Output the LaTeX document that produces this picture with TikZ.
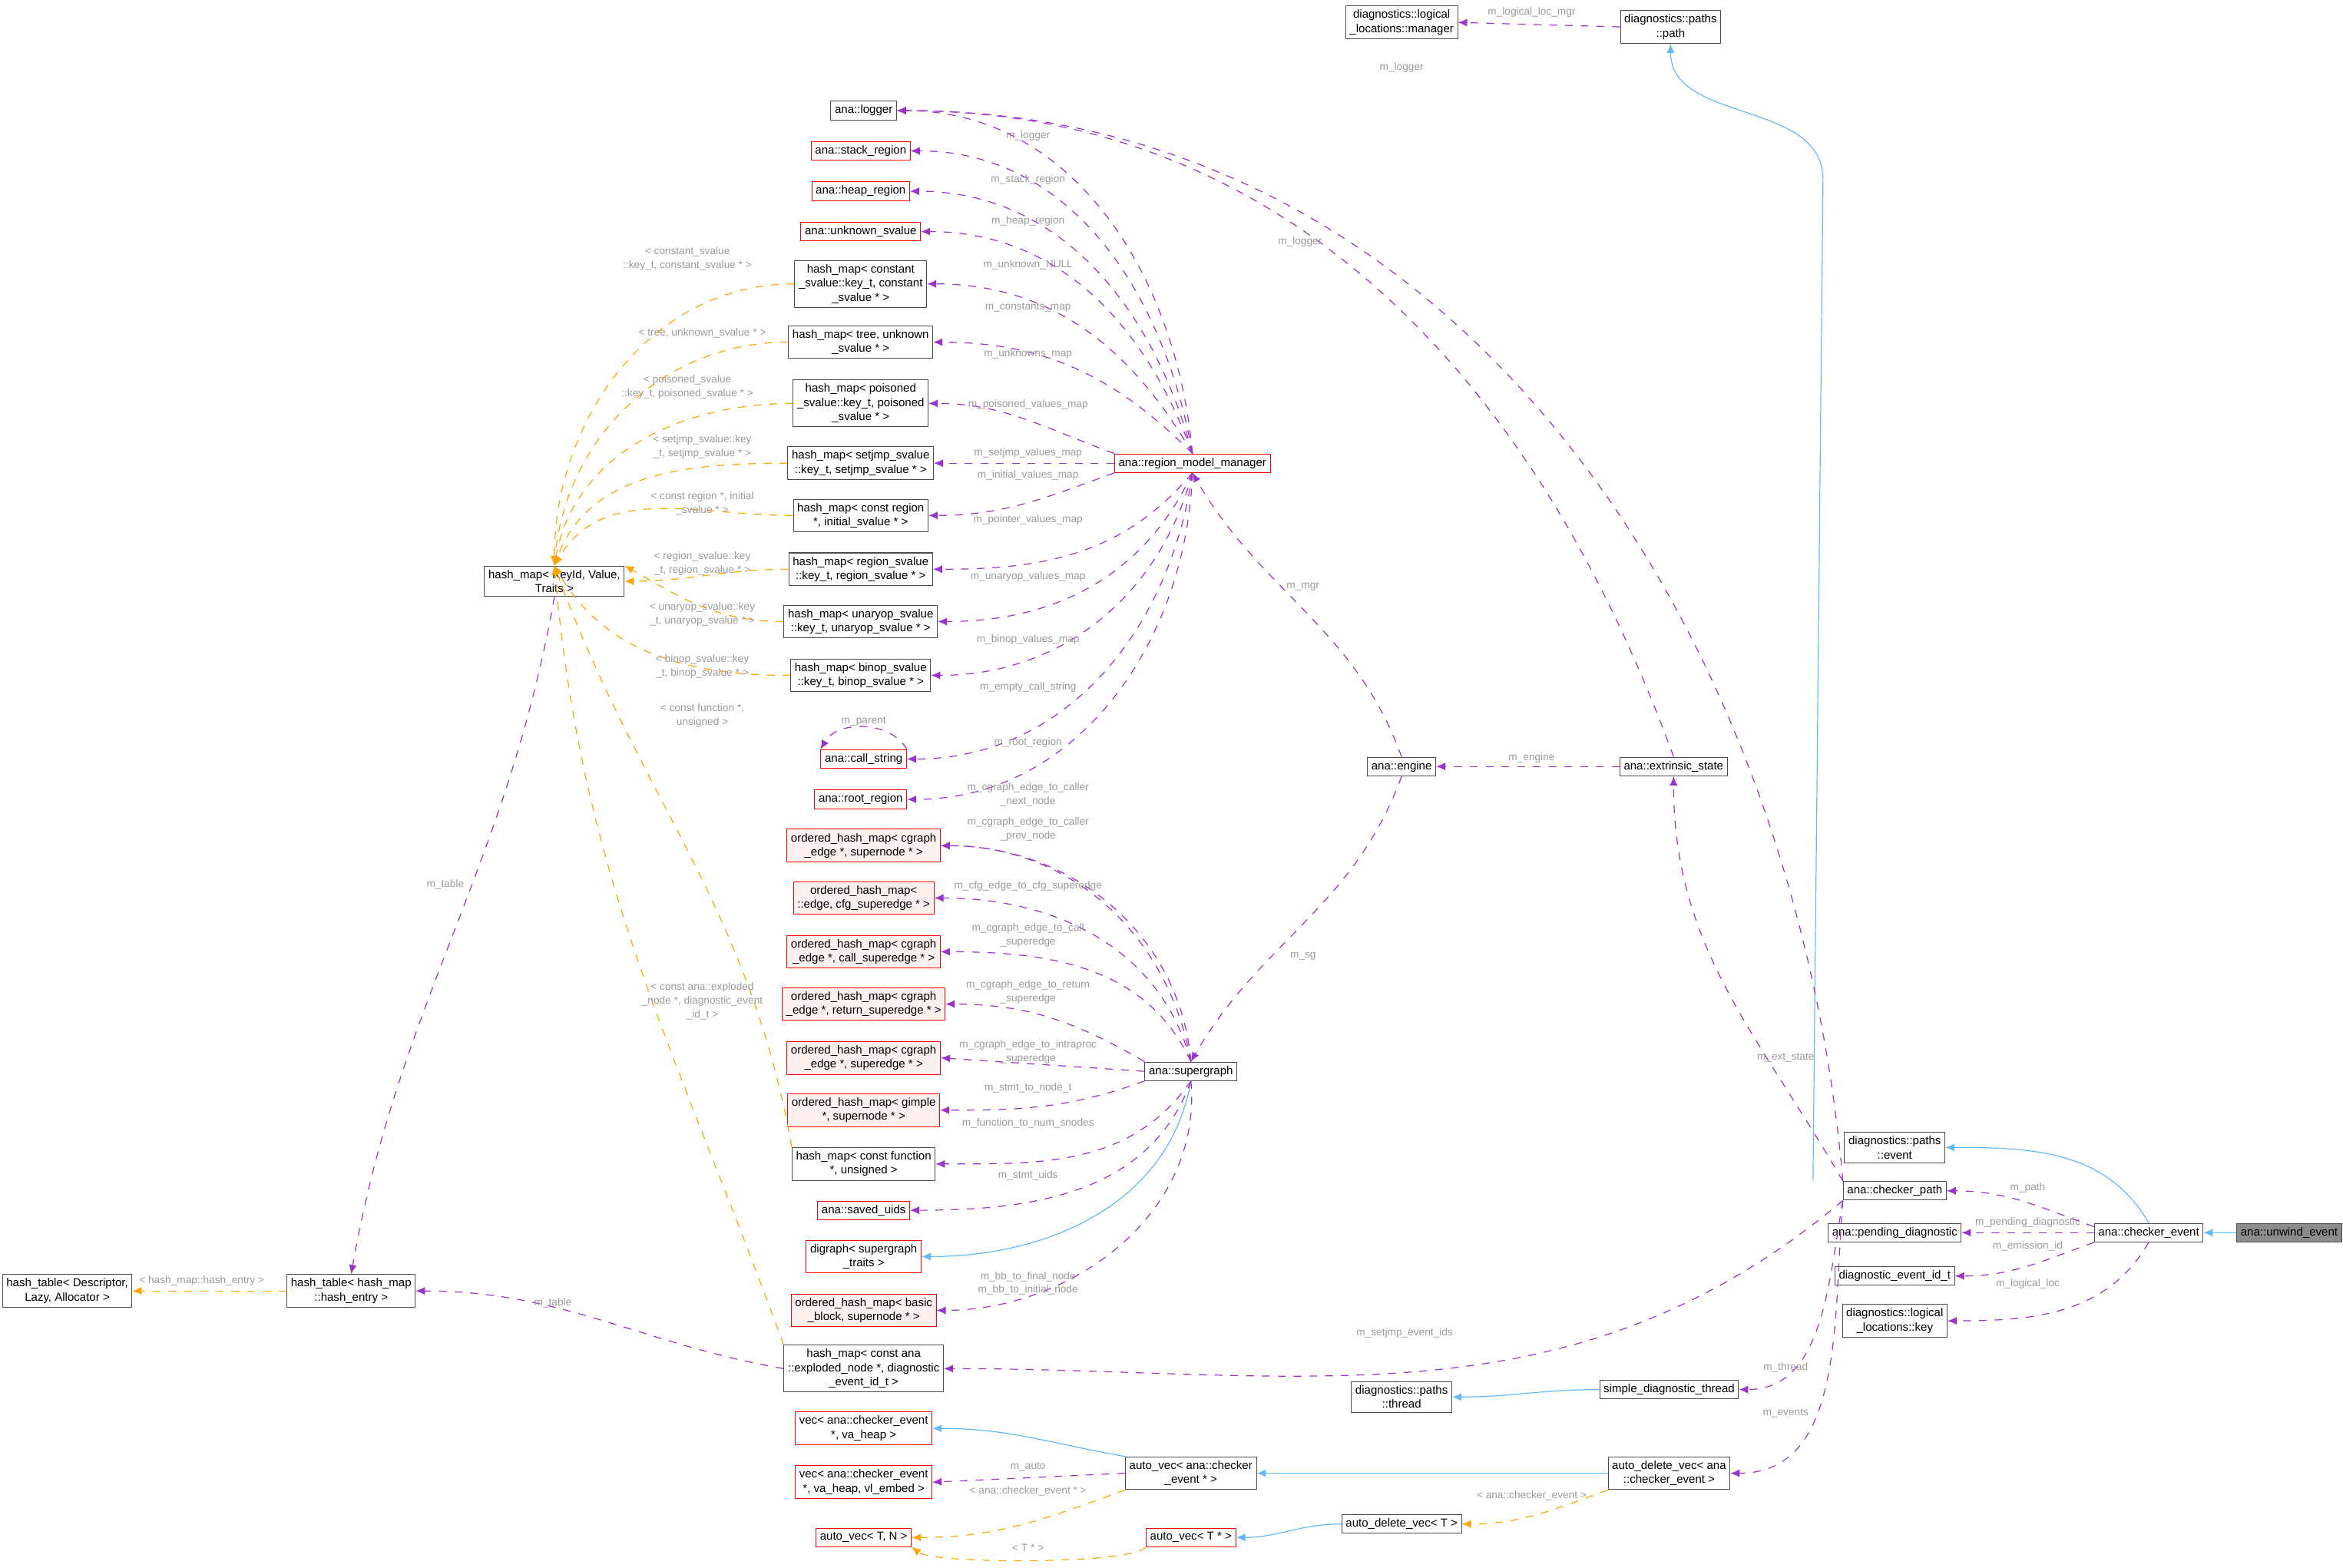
\documentclass[tikz,border=0pt]{standalone}
\usepackage{fontspec}
\setmainfont{Liberation Sans}
\usetikzlibrary{arrows.meta}
\definecolor{memb}{HTML}{9A32CD}
\definecolor{tmpl}{HTML}{FFA500}
\definecolor{inh}{HTML}{63B8FF}
\definecolor{lblc}{HTML}{9A9A9A}
\tikzset{
  cls/.style={draw=black!70, line width=0.3pt, fill=white, align=center, inner sep=1.5pt, font=\fontsize{4.4}{5.4}\selectfont},
  redcls/.style={cls, draw=red},
  pinkcls/.style={cls, draw=red, fill=red!6},
  curcls/.style={cls, fill=black!45},
  member/.style={memb, line width=0.35pt, dashed, -{Latex[length=3.5pt,width=3pt]}},
  tparam/.style={tmpl, line width=0.35pt, dashed, -{Latex[length=3.5pt,width=3pt]}},
  derive/.style={inh, line width=0.35pt, -{Latex[length=3.5pt,width=3pt]}},
  lbl/.style={text=lblc, align=center, inner sep=0pt, font=\fontsize{4}{5.2}\selectfont}
}
\begin{document}
\begin{tikzpicture}[x=0.02cm,y=-0.02cm]
\useasboundingbox (0,0) rectangle (1568,1049);

% right part
\node[curcls] (unwind) at (1532,825) {ana::unwind\_event};
\node[cls] (cevent) at (1438,825) {ana::checker\_event};
\node[cls] (pevent) at (1268,768) {diagnostics::paths\\::event};
\node[cls] (cpath) at (1268,797) {ana::checker\_path};
\node[cls] (pending) at (1268,825) {ana::pending\_diagnostic};
\node[cls] (eventid) at (1268,854) {diagnostic\_event\_id\_t};
\node[cls] (lockey) at (1268,884) {diagnostics::logical\\\_locations::key};
\node[cls] (ppath) at (1118,18) {diagnostics::paths\\::path};
\node[cls] (locmgr) at (938,15) {diagnostics::logical\\\_locations::manager};
\node[cls] (extstate) at (1120,513) {ana::extrinsic\_state};
\node[cls] (engine) at (938,513) {ana::engine};
\node[redcls] (rmm) at (798,310) {ana::region\_model\_manager};
\node[cls] (sgraph) at (797,717) {ana::supergraph};
\node[cls] (pthread) at (938,935) {diagnostics::paths\\::thread};
\node[cls] (sthread) at (1117,930) {simple\_diagnostic\_thread};
\node[cls] (advana) at (1117,986) {auto\_delete\_vec\textless{} ana\\::checker\_event \textgreater};
\node[cls] (avce) at (797,986) {auto\_vec\textless{} ana::checker\\\_event * \textgreater};
\node[cls] (advT) at (938,1020) {auto\_delete\_vec\textless{} T \textgreater};
\node[redcls] (avT) at (797,1029) {auto\_vec\textless{} T * \textgreater};

% middle column
\node[cls] (logger) at (578,74) {ana::logger};
\node[redcls] (stack) at (576,101) {ana::stack\_region};
\node[redcls] (heap) at (576,128) {ana::heap\_region};
\node[redcls] (unknown) at (576,155) {ana::unknown\_svalue};
\node[cls] (hmconst) at (576,190) {hash\_map\textless{} constant\\\_svalue::key\_t, constant\\\_svalue * \textgreater};
\node[cls] (hmtree) at (576,229) {hash\_map\textless{} tree, unknown\\\_svalue * \textgreater};
\node[cls] (hmpoison) at (576,270) {hash\_map\textless{} poisoned\\\_svalue::key\_t, poisoned\\\_svalue * \textgreater};
\node[cls] (hmsetjmp) at (576,310) {hash\_map\textless{} setjmp\_svalue\\::key\_t, setjmp\_svalue * \textgreater};
\node[cls] (hminit) at (576,345) {hash\_map\textless{} const region\\*, initial\_svalue * \textgreater};
\node[cls] (hmregion) at (576,381) {hash\_map\textless{} region\_svalue\\::key\_t, region\_svalue * \textgreater};
\node[cls] (hmunary) at (576,416) {hash\_map\textless{} unaryop\_svalue\\::key\_t, unaryop\_svalue * \textgreater};
\node[cls] (hmbinop) at (576,452) {hash\_map\textless{} binop\_svalue\\::key\_t, binop\_svalue * \textgreater};
\node[redcls] (callstr) at (578,508) {ana::call\_string};
\node[redcls] (rootreg) at (576,535) {ana::root\_region};
\node[pinkcls] (ohmcaller) at (578,566) {ordered\_hash\_map\textless{} cgraph\\\_edge *, supernode * \textgreater};
\node[pinkcls] (ohmcfg) at (578,601) {ordered\_hash\_map\textless\\::edge, cfg\_superedge * \textgreater};
\node[pinkcls] (ohmcall) at (578,637) {ordered\_hash\_map\textless{} cgraph\\\_edge *, call\_superedge * \textgreater};
\node[pinkcls] (ohmret) at (578,672) {ordered\_hash\_map\textless{} cgraph\\\_edge *, return\_superedge * \textgreater};
\node[pinkcls] (ohmintra) at (578,708) {ordered\_hash\_map\textless{} cgraph\\\_edge *, superedge * \textgreater};
\node[pinkcls] (ohmgimple) at (578,743) {ordered\_hash\_map\textless{} gimple\\*, supernode * \textgreater};
\node[cls] (hmfunc) at (578,779) {hash\_map\textless{} const function\\*, unsigned \textgreater};
\node[redcls] (saved) at (578,810) {ana::saved\_uids};
\node[redcls] (digraph) at (578,841) {digraph\textless{} supergraph\\\_traits \textgreater};
\node[pinkcls] (ohmbb) at (578,877) {ordered\_hash\_map\textless{} basic\\\_block, supernode * \textgreater};
\node[cls] (hmexpl) at (578,916) {hash\_map\textless{} const ana\\::exploded\_node *, diagnostic\\\_event\_id\_t \textgreater};
\node[redcls] (vecheap) at (578,956) {vec\textless{} ana::checker\_event\\*, va\_heap \textgreater};
\node[redcls] (vecembed) at (578,992) {vec\textless{} ana::checker\_event\\*, va\_heap, vl\_embed \textgreater};
\node[redcls] (avTN) at (578,1029) {auto\_vec\textless{} T, N \textgreater};

% left part
\node[cls] (hmkey) at (371,389) {hash\_map\textless{} KeyId, Value,\\Traits \textgreater};
\node[cls] (htentry) at (235,864) {hash\_table\textless{} hash\_map\\::hash\_entry \textgreater};
\node[cls] (ht) at (45,864) {hash\_table\textless{} Descriptor,\\Lazy, Allocator \textgreater};

% inheritance
\draw[derive] (unwind) -- (cevent);
\draw[derive] (cevent.north) to[out=120,in=0] (pevent.east);
\draw[derive] (cpath.north west) ++(-20,0) coordinate (cpup) -- (1220,120) to[out=90,in=270] (ppath.south);
\draw[derive] (sgraph.south) to[out=260,in=0] (digraph.east);
\draw[derive] (sthread.west) to[out=180,in=0] (pthread.east);
\draw[derive] (advana.west) -- (avce.east);
\draw[derive] (avce.north west) to[out=170,in=0] (vecheap.east);
\draw[derive] (advT.west) to[out=180,in=0] (avT.east);

% members of checker_event / checker_path
\draw[member] (cevent.west) ++(0,-4) to[out=160,in=0] (cpath.east) node[lbl,at={(1357,795)}] {m\_path};
\draw[member] (cevent.west) -- (pending.east) node[lbl,at={(1357,818)}] {m\_pending\_diagnostic};
\draw[member] (cevent.south west) to[out=200,in=0] (eventid.east) node[lbl,at={(1357,834)}] {m\_emission\_id};
\draw[member] (cevent.south) to[out=240,in=0] (lockey.east) node[lbl,at={(1357,859)}] {m\_logical\_loc};
\draw[member] (cpath.north west) to[out=95,in=0] (logger.east) node[lbl,at={(938,45)}] {m\_logger};
\draw[member] (cpath.north west) to[out=120,in=270] (extstate.south) node[lbl,at={(1195,708)}] {m\_ext\_state};
\draw[member] (cpath.south west) to[out=220,in=0] (hmexpl.east) node[lbl,at={(940,892)}] {m\_setjmp\_event\_ids};
\draw[member] (cpath.south west) to[out=260,in=0] (sthread.east) node[lbl,at={(1195,915)}] {m\_thread};
\draw[member] (cpath.south west) to[out=265,in=0] (advana.east) node[lbl,at={(1195,946)}] {m\_events};
\draw[member] (ppath.west) -- (locmgr.east) node[lbl,at={(1025,8)}] {m\_logical\_loc\_mgr};
\draw[member] (extstate.north) to[out=110,in=0] (logger.east) node[lbl,at={(870,162)}] {m\_logger};
\draw[member] (extstate.west) -- (engine.east) node[lbl,at={(1025,507)}] {m\_engine};
\draw[member] (engine.north) to[out=110,in=300] (rmm.south) node[lbl,at={(872,393)}] {m\_mgr};
\draw[member] (engine.south) to[out=250,in=60] (sgraph.north) node[lbl,at={(872,640)}] {m\_sg};

% members of region_model_manager
\draw[member] (rmm.north) to[out=95,in=0] (logger.east) node[lbl,at={(688,91)}] {m\_logger};
\draw[member] (rmm.north) to[out=100,in=0] (stack.east) node[lbl,at={(688,120)}] {m\_stack\_region};
\draw[member] (rmm.north) to[out=105,in=0] (heap.east) node[lbl,at={(688,148)}] {m\_heap\_region};
\draw[member] (rmm.north) to[out=110,in=0] (unknown.east) node[lbl,at={(688,177)}] {m\_unknown\_NULL};
\draw[member] (rmm.north) to[out=120,in=0] (hmconst.east) node[lbl,at={(688,206)}] {m\_constants\_map};
\draw[member] (rmm.north) to[out=135,in=0] (hmtree.east) node[lbl,at={(688,237)}] {m\_unknowns\_map};
\draw[member] (rmm.north west) to[out=160,in=0] (hmpoison.east) node[lbl,at={(688,271)}] {m\_poisoned\_values\_map};
\draw[member] (rmm.west) -- (hmsetjmp.east) node[lbl,at={(688,303)}] {m\_setjmp\_values\_map};
\draw[member] (rmm.south west) to[out=200,in=0] (hminit.east) node[lbl,at={(688,318)}] {m\_initial\_values\_map};
\draw[member] (rmm.south) to[out=230,in=0] (hmregion.east) node[lbl,at={(688,348)}] {m\_pointer\_values\_map};
\draw[member] (rmm.south) to[out=245,in=0] (hmunary.east) node[lbl,at={(688,386)}] {m\_unaryop\_values\_map};
\draw[member] (rmm.south) to[out=255,in=0] (hmbinop.east) node[lbl,at={(688,428)}] {m\_binop\_values\_map};
\draw[member] (rmm.south) to[out=262,in=0] (callstr.east) node[lbl,at={(688,460)}] {m\_empty\_call\_string};
\draw[member] (rmm.south) to[out=268,in=0] (rootreg.east) node[lbl,at={(688,497)}] {m\_root\_region};
\draw[member] (callstr.north east) to[out=120,in=60] (callstr.north west) node[lbl,at={(578,483)}] {m\_parent};

% members of supergraph
\draw[member] (sgraph.north) to[out=95,in=0] (ohmcaller.east) node[lbl,at={(688,532)}] {m\_cgraph\_edge\_to\_caller\\\_next\_node};
\draw[member] (sgraph.north) to[out=100,in=0] (ohmcaller.east) node[lbl,at={(688,555)}] {m\_cgraph\_edge\_to\_caller\\\_prev\_node};
\draw[member] (sgraph.north) to[out=105,in=0] (ohmcfg.east) node[lbl,at={(688,593)}] {m\_cfg\_edge\_to\_cfg\_superedge};
\draw[member] (sgraph.north) to[out=115,in=0] (ohmcall.east) node[lbl,at={(688,626)}] {m\_cgraph\_edge\_to\_call\\\_superedge};
\draw[member] (sgraph.north west) to[out=150,in=0] (ohmret.east) node[lbl,at={(688,664)}] {m\_cgraph\_edge\_to\_return\\\_superedge};
\draw[member] (sgraph.west) -- (ohmintra.east) node[lbl,at={(688,704)}] {m\_cgraph\_edge\_to\_intraproc\\\_superedge};
\draw[member] (sgraph.south west) to[out=200,in=0] (ohmgimple.east) node[lbl,at={(688,728)}] {m\_stmt\_to\_node\_t};
\draw[member] (sgraph.south) to[out=235,in=0] (hmfunc.east) node[lbl,at={(688,752)}] {m\_function\_to\_num\_snodes};
\draw[member] (sgraph.south) to[out=250,in=0] (saved.east) node[lbl,at={(688,787)}] {m\_stmt\_uids};
\draw[member] (sgraph.south) to[out=275,in=0] (ohmbb.east) node[lbl,at={(688,859)}] {m\_bb\_to\_final\_node\\m\_bb\_to\_initial\_node};

% other members
\draw[member] (hmexpl.west) to[out=170,in=0] (htentry.east) node[lbl,at={(370,872)}] {m\_table};
\draw[member] (hmkey.south) to[out=260,in=80] (htentry.north) node[lbl,at={(298,592)}] {m\_table};
\draw[member] (avce.west) -- (vecembed.east) node[lbl,at={(688,982)}] {m\_auto};

% template instances
\draw[tparam] (hmconst.west) to[out=180,in=90] (hmkey.north) node[lbl,at={(460,173)}] {\textless{} constant\_svalue\\::key\_t, constant\_svalue * \textgreater};
\draw[tparam] (hmtree.west) to[out=180,in=85] (hmkey.north) node[lbl,at={(470,223)}] {\textless{} tree, unknown\_svalue * \textgreater};
\draw[tparam] (hmpoison.west) to[out=180,in=80] (hmkey.north) node[lbl,at={(460,259)}] {\textless{} poisoned\_svalue\\::key\_t, poisoned\_svalue * \textgreater};
\draw[tparam] (hmsetjmp.west) to[out=180,in=70] (hmkey.north) node[lbl,at={(470,299)}] {\textless{} setjmp\_svalue::key\\\_t, setjmp\_svalue * \textgreater};
\draw[tparam] (hminit.west) to[out=180,in=60] (hmkey.north) node[lbl,at={(470,337)}] {\textless{} const region *, initial\\\_svalue * \textgreater};
\draw[tparam] (hmregion.west) to[out=180,in=0] (hmkey.east) node[lbl,at={(470,377)}] {\textless{} region\_svalue::key\\\_t, region\_svalue * \textgreater};
\draw[tparam] (hmunary.west) to[out=180,in=-30] (hmkey.north east) node[lbl,at={(470,411)}] {\textless{} unaryop\_svalue::key\\\_t, unaryop\_svalue * \textgreater};
\draw[tparam] (hmbinop.west) to[out=180,in=-60] (hmkey.north) node[lbl,at={(470,446)}] {\textless{} binop\_svalue::key\\\_t, binop\_svalue * \textgreater};
\draw[tparam] (hmfunc.north west) to[out=100,in=-70] (hmkey.north) node[lbl,at={(470,479)}] {\textless{} const function *,\\unsigned \textgreater};
\draw[tparam] (hmexpl.north west) to[out=110,in=-85] (hmkey.north) node[lbl,at={(470,670)}] {\textless{} const ana::exploded\\\_node *, diagnostic\_event\\\_id\_t \textgreater};
\draw[tparam] (htentry.west) -- (ht.east) node[lbl,at={(135,857)}] {\textless{} hash\_map::hash\_entry \textgreater};
\draw[tparam] (avce.south west) to[out=200,in=0] (avTN.east) node[lbl,at={(688,998)}] {\textless{} ana::checker\_event * \textgreater};
\draw[tparam] (advana.south west) to[out=200,in=0] (advT.east) node[lbl,at={(1025,1001)}] {\textless{} ana::checker\_event \textgreater};
\draw[tparam] (avT.south west) .. controls (760,1047) and (625,1047) .. (avTN.south east) node[lbl,at={(688,1036)}] {\textless{} T * \textgreater};
\end{tikzpicture}
\end{document}
